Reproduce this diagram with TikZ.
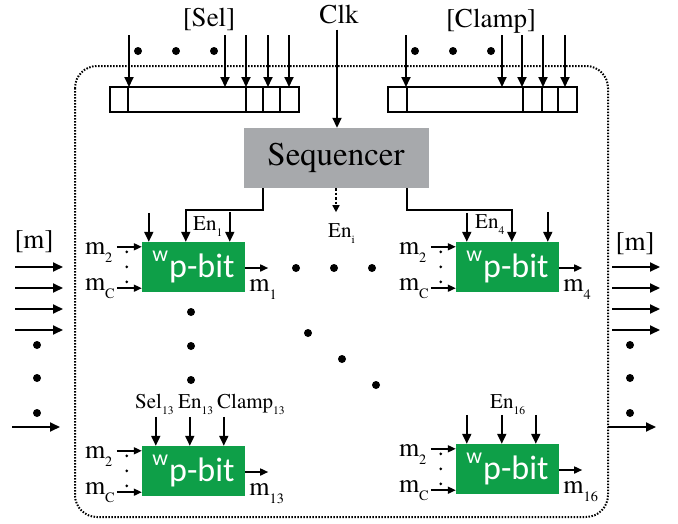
\documentclass[tikz,border=0pt]{standalone}
\usepackage{fontspec}
\usepackage{graphicx}
\setmainfont{texgyretermes}[Extension=.otf,UprightFont=*-regular,BoldFont=*-bold,ItalicFont=*-italic,BoldItalicFont=*-bolditalic]
\newfontfamily\pbfont{Carlito}
\usetikzlibrary{arrows.meta}
\definecolor{pgreen}{RGB}{14,159,72}
\definecolor{sgray}{RGB}{167,169,172}
\newcommand\lsub[1]{\raisebox{-0.3em}{\scalebox{0.55}{#1}}}
\newcommand\pbtext{\raisebox{16pt}{\fontsize{22}{22}\selectfont w}\kern1pt p-bit}
\begin{document}
\begin{tikzpicture}[x=1pt,y=-1pt,
 arr/.style={line width=1.8pt,-{Triangle[length=10pt,width=9pt]}},
 sarr/.style={line width=1.6pt,-{Triangle[length=8pt,width=7pt]}},
 pbit/.style={fill=pgreen,minimum width=103pt,minimum height=50pt,inner sep=0pt,text=white,font=\pbfont\fontsize{34}{36}\selectfont},
 reg/.style={draw,line width=2pt,minimum width=189pt,minimum height=25pt,inner sep=0pt},
 lab/.style={font=\fontsize{27}{29}\selectfont,inner sep=0pt},
 mlab/.style={font=\fontsize{26}{28}\selectfont,inner sep=0pt,anchor=base west},
 elab/.style={font=\fontsize{21}{23}\selectfont,inner sep=0pt,anchor=base west},
 bigdot/.style={circle,fill,inner sep=0pt,minimum size=8pt},
 smalldot/.style={circle,fill,inner sep=0pt,minimum size=3pt},
]
\useasboundingbox (0,0) rectangle (678,523);

% dotted enclosure
\draw[line width=2pt,dash pattern=on 1.5pt off 1.5pt,rounded corners=22pt] (75,66) rectangle (608,517);

% registers
\node[reg] (selreg) at (204.5,99.5) {};
\foreach \x in {128,246,263,280} \draw[line width=2pt] (\x,87) -- (\x,112);
\node[reg] (clampreg) at (482.5,99.5) {};
\foreach \x in {407,523,542,558} \draw[line width=2pt] (\x,87) -- (\x,112);

\foreach \x in {129,225,246,268,289} \draw[arr] (\x,35) -- (\x,87);
\foreach \x in {406,502,522,543,565} \draw[arr] (\x,35) -- (\x,87);
\foreach \x [count=\i] in {138,176,214} \node[bigdot] (sd\i) at (\x,51) {};
\foreach \x [count=\i] in {415,453,491} \node[bigdot] (cd\i) at (\x,51) {};

\node[lab,anchor=base] (sel) at (209,26) {[Sel]};
\node[lab,anchor=base] (clk) at (339,23) {Clk};
\node[lab,anchor=base] (clamp) at (491,27) {[Clamp]};

% sequencer
\node[fill=sgray,minimum width=185pt,minimum height=60pt,inner sep=0pt,font=\fontsize{33}{35}\selectfont] (seq) at (336,158) {Sequencer};
\draw[arr] ([xshift=-2pt,yshift=-6pt]clk.south) -- ([xshift=-2pt]clk.south |- seq.north);

% pbits
\foreach \nm/\cx/\cy in {1/193.5/267, 4/507.5/267, 13/193.5/471, 16/507.5/469}{
  \node[pbit] (p\nm) at (\cx,\cy) {\pbtext};
  \coordinate (ina\nm) at ([xshift=-25pt,yshift=-5pt]p\nm.north west);
  \coordinate (inb\nm) at ([xshift=-25pt,yshift=4pt]p\nm.south west);
  \draw[sarr] (ina\nm) -- (ina\nm -| p\nm.west);
  \draw[sarr] (inb\nm) -- (inb\nm -| p\nm.west);
  \node[mlab] (ltwo\nm) at ([xshift=-57pt,yshift=-13pt]p\nm.north west) {m\lsub{2}};
  \node[mlab] (lc\nm) at ([xshift=-57pt,yshift=2pt]p\nm.south west) {m\lsub{C}};
  \foreach \d in {10,25,40} \node[smalldot] (dd\nm x\d) at ([xshift=-15pt,yshift=-\d pt]p\nm.north west) {};
  \coordinate (out\nm) at ([xshift=23pt,yshift=-1pt]p\nm.east);
  \draw[sarr] (out\nm -| p\nm.east) -- (out\nm);
  \node[mlab] (lo\nm) at ([xshift=4pt,yshift=1pt]p\nm.south east) {m\lsub{\nm}};
}

% sequencer to pbits
\draw[arr] ([xshift=20pt]seq.south west) -- ++(0,22) -| ([xshift=44pt]p1.north west);
\draw[arr] ([xshift=-22pt]seq.south east) -- ++(0,22) -| ([xshift=56pt]p4.north west);
\draw[line width=1.6pt,dash pattern=on 2.5pt off 2pt,-{Triangle[length=7pt,width=7pt]}] (seq.south) -- ++(0,24);
\node[elab] (eni) at (328,237) {En\lsub{i}};

% top inputs
\draw[arr] ([xshift=7pt,yshift=29pt]p1.north west) -- ([xshift=7pt]p1.north west);
\draw[arr] ([xshift=88pt,yshift=30pt]p1.north west) -- ([xshift=88pt]p1.north west);
\draw[arr] ([xshift=11pt,yshift=29pt]p4.north west) -- ([xshift=11pt]p4.north west);
\draw[arr] ([xshift=92pt,yshift=30pt]p4.north west) -- ([xshift=92pt]p4.north west);
\foreach \dx in {14,48,82} \draw[arr] ([xshift=\dx pt,yshift=29pt]p13.north west) -- ([xshift=\dx pt]p13.north west);
\foreach \dx in {11,46,80} \draw[arr] ([xshift=\dx pt,yshift=29pt]p16.north west) -- ([xshift=\dx pt]p16.north west);

\node[elab] (en1) at (193,230) {En\lsub{1}};
\node[elab] (en4) at (475,228) {En\lsub{4}};
\node[elab] (en16) at (490,408) {En\lsub{16}};
\node[elab] (sel13) at (135,408) {Sel\lsub{13}};
\node[elab] (en13) at (178,408) {En\lsub{13}};
\node[elab] (clamp13) at (217,408) {Clamp\lsub{13}};

% ellipsis dots in the array
\foreach \x/\y [count=\i] in {296/268,334/268,372/268,191/312,191/346,191/380,308/333,342/359,376/385}
  \node[bigdot] (ad\i) at (\x,\y) {};

% left and right buses
\node[lab,anchor=base] (mleft) at (34,248) {[m]};
\node[lab,anchor=base] (mright) at (635,250) {[m]};
\foreach \y in {267,288,309,330} {
  \draw[arr] (15,\y) -- (63,\y);
  \draw[arr] (612,\y) -- (660,\y);
}
\draw[arr] (12,427) -- (60,427);
\draw[arr] (608,427) -- (656,427);
\foreach \y [count=\i] in {345,378,413} {
  \node[bigdot] (ld\i) at (37,\y) {};
  \node[bigdot] (rd\i) at (630,\y) {};
}
\end{tikzpicture}
\end{document}
